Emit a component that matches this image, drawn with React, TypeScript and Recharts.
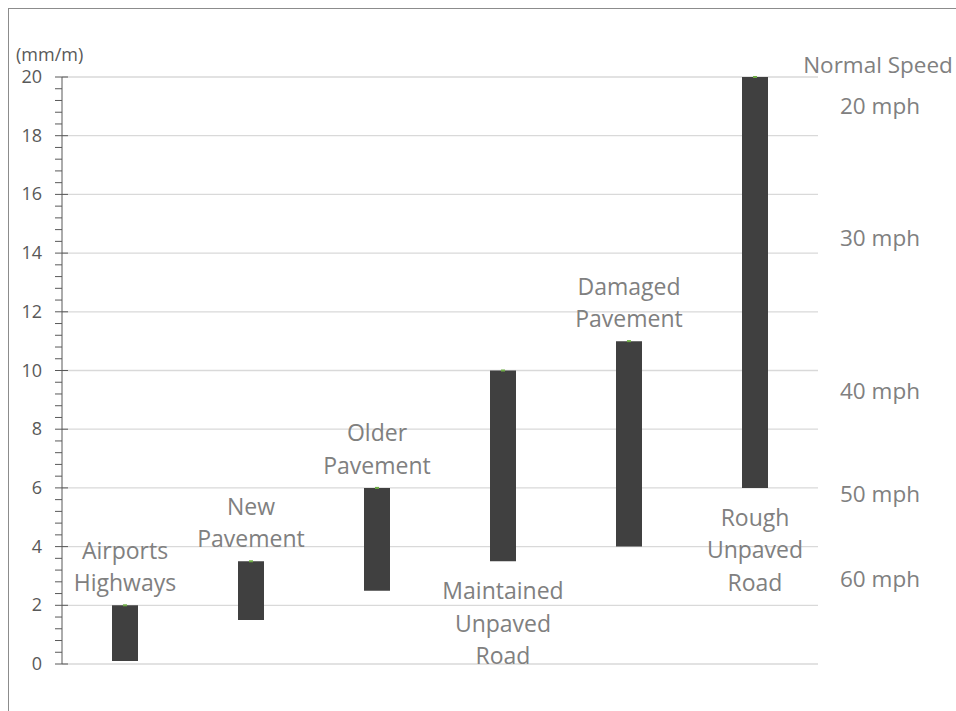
import React from "react";
import {
  ComposedChart,
  Bar,
  Line,
  XAxis,
  YAxis,
  CartesianGrid,
  LabelList,
} from "recharts";

const categories = [
  ["Airports", "Highways"],
  ["New", "Pavement"],
  ["Older", "Pavement"],
  ["Maintained", "Unpaved", "Road"],
  ["Damaged", "Pavement"],
  ["Rough", "Unpaved", "Road"],
];
const lowValues = [0.1, 1.5, 2.5, 3.5, 4, 6];
const highValues = [2, 3.5, 6, 10, 11, 20];
// where Excel put each data label: above the bar or under it
const labelSide = ["top", "top", "top", "bottom", "top", "bottom"];

const majorTicks = [0, 2, 4, 6, 8, 10, 12, 14, 16, 18, 20];
const speedLevels = [19, 14.5, 9.3, 5.8, 2.9];
const speedLabels = ["20 mph", "30 mph", "40 mph", "50 mph", "60 mph"];

// five minor steps between two majors
const allTicks: number[] = [];
majorTicks.forEach((t, i) => {
  if (i === 0) return allTicks.push(t);
  const step = (t - majorTicks[i - 1]) / 5;
  for (let k = 1; k <= 5; k++) allTicks.push(+(majorTicks[i - 1] + step * k).toFixed(2));
});

const data = categories.map((lines, i) => ({
  name: lines.join(" "),
  lines,
  low: lowValues[i],
  high: highValues[i],
}));

const FONT = "'Open Sans', 'Noto Sans', sans-serif";
const LABEL_GRAY = "#808080";
const AXIS_GRAY = "#595959";

function LeftTick(props: any) {
  const { x, y, payload } = props;
  const major = majorTicks.includes(payload.value);
  return (
    <g>
      <line x1={x - 7} x2={major ? x + 6 : x} y1={y} y2={y} stroke={AXIS_GRAY} strokeWidth={1} />
      {major && (
        <text x={x - 20} y={y} dy={6} textAnchor="end" fontSize={18} fill={AXIS_GRAY} fontFamily={FONT}>
          {payload.value}
        </text>
      )}
    </g>
  );
}

function RightTick(props: any) {
  const { x, y, payload } = props;
  const label = speedLabels[speedLevels.indexOf(payload.value)];
  return (
    <text x={x + 62} y={y} dy={8} textAnchor="middle" fontSize={22.5} fill={LABEL_GRAY} fontFamily={FONT}>
      {label}
    </text>
  );
}

function BarLabel(props: any) {
  const { x, y, width, height, index } = props;
  const lines = categories[index];
  const cx = x + width / 2;
  const side = labelSide[index];
  const lineH = 32.5;
  const startY = side === "top" ? y - 22 - (lines.length - 1) * lineH : y + height + 30;
  return (
    <g>
      <rect x={cx - 2} y={y - 1} width={4} height={2} fill="#70ad47" />
      {lines.map((l, k) => (
        <text
          key={k}
          x={cx}
          y={startY + k * lineH}
          dy={8}
          textAnchor="middle"
          fontSize={23}
          fill={LABEL_GRAY}
          fontFamily={FONT}
        >
          {l}
        </text>
      ))}
    </g>
  );
}

export default function App() {
  return (
    <div
      style={{
        position: "fixed",
        left: 8,
        top: 8,
        width: 948,
        height: 703,
        borderTop: "1px solid #8c8c8c",
        borderLeft: "1px solid #8c8c8c",
        boxSizing: "border-box",
        background: "#fff",
      }}
    >
      <div style={{ position: "absolute", left: -1, top: -1 }}>
        <ComposedChart
          width={948}
          height={703}
          data={data}
          margin={{ top: 69, right: 0, bottom: 47, left: 0 }}
        >
          <CartesianGrid
            vertical={false}
            stroke="#d9d9d9"
            strokeWidth={1.3}
            yAxisId="left"
            horizontalValues={majorTicks}
          />
          <XAxis dataKey="name" hide />
          <YAxis
            yAxisId="left"
            width={54}
            domain={[0, 20]}
            ticks={allTicks}
            interval={0}
            tickSize={0}
            tickMargin={0}
            tickLine={false}
            axisLine={{ stroke: AXIS_GRAY }}
            tick={<LeftTick />}
            label={{
              content: ({ viewBox }: any) => (
                <text
                  x={viewBox.x + 8}
                  y={viewBox.y - 16}
                  fontSize={18}
                  fill={AXIS_GRAY}
                  fontFamily={FONT}
                >
                  (mm/m)
                </text>
              ),
            }}
          />
          <YAxis
            yAxisId="right"
            orientation="right"
            width={138}
            domain={[0, 20]}
            ticks={speedLevels}
            interval={0}
            tickSize={0}
            tickMargin={0}
            tickLine={false}
            axisLine={false}
            tick={<RightTick />}
            label={{
              content: ({ viewBox }: any) => (
                <text
                  x={viewBox.x + 60}
                  y={viewBox.y - 4}
                  textAnchor="middle"
                  fontSize={22.5}
                  fill={LABEL_GRAY}
                  fontFamily={FONT}
                >
                  Normal Speed
                </text>
              ),
            }}
          />
          <Bar
            yAxisId="left"
            dataKey={(d: any) => [d.low, d.high]}
            fill="#404040"
            barSize={26}
            isAnimationActive={false}
          >
            <LabelList content={<BarLabel />} />
          </Bar>
          {/* the speed scale needs a series of its own to get a domain */}
          <Line
            yAxisId="right"
            dataKey="high"
            stroke="none"
            dot={false}
            activeDot={false}
            legendType="none"
            isAnimationActive={false}
          />
        </ComposedChart>
      </div>
    </div>
  );
}
